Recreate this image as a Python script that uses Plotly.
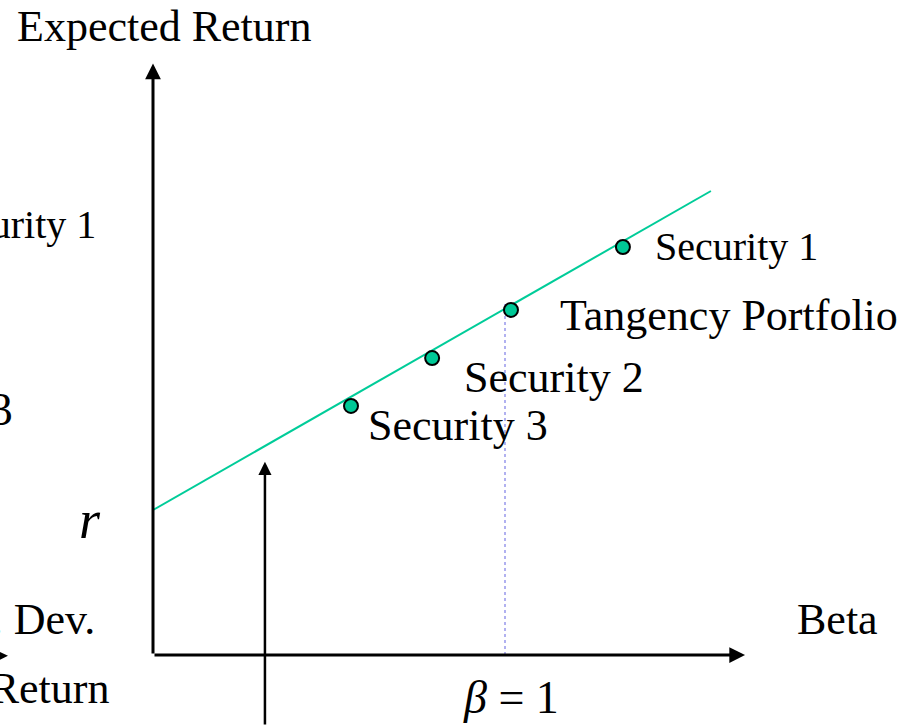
import plotly.graph_objects as go

# ---- data (beta, expected return) ----
securities = ["Security 3", "Security 2", "Tangency Portfolio", "Security 1"]
betas = [0.5625, 0.793, 1.017, 1.335]
exp_returns = [8.59, 10.24, 11.9, 14.07]
risk_free = 5.0
sml_slope = 6.94
sml_beta_end = 1.585
market_beta = 1.0
market_line_top = 12.1
axis_beta_end = 1.682
axis_return_end = 20.4
pointer_beta = 0.318
pointer_return = 6.66

# label anchors in data units
label_betas = [0.605, 0.878, 1.1506, 1.420]
label_returns = [7.93, 9.58, 11.72, 14.1]
label_sizes = [44, 44, 44, 40]

X_RANGE = [-153 / 352, 764 / 352]
Y_RANGE = [-71 / 29, 655 / 29]

GREEN = "#00CC99"
FONT = "Liberation Serif, Times New Roman, Times, serif"

fig = go.Figure()

# security market line
fig.add_trace(go.Scatter(
    x=[0, sml_beta_end],
    y=[risk_free, risk_free + sml_slope * sml_beta_end],
    mode="lines", line=dict(color=GREEN, width=2), hoverinfo="skip"))

# beta = 1 dotted guide
fig.add_trace(go.Scatter(
    x=[market_beta, market_beta], y=[0, market_line_top],
    mode="lines", line=dict(color="#8888e8", width=1.3, dash="dot"), hoverinfo="skip"))

# securities
fig.add_trace(go.Scatter(
    x=betas, y=exp_returns, mode="markers", text=securities,
    marker=dict(size=14, color="#00C896", line=dict(color="black", width=2))))

ann = []
# axes with arrow heads
ann.append(dict(x=axis_beta_end, y=0, ax=0, ay=0, xref="x", yref="y", axref="x", ayref="y",
                showarrow=True, arrowhead=2, arrowsize=1.05, arrowwidth=3, arrowcolor="black", text=""))
ann.append(dict(x=0, y=axis_return_end, ax=0, ay=0, xref="x", yref="y", axref="x", ayref="y",
                showarrow=True, arrowhead=2, arrowsize=1.05, arrowwidth=3, arrowcolor="black", text=""))
# pointer arrow from bottom
ann.append(dict(x=pointer_beta, y=pointer_return, ax=0, ay=300, xref="x", yref="y",
                showarrow=True, arrowhead=2, arrowsize=1.05, arrowwidth=2.5, arrowcolor="black", text=""))
# cut-off arrow head of neighbouring panel
ann.append(dict(x=-0.412, y=-0.03, ax=-40, ay=0, xref="x", yref="y",
                showarrow=True, arrowhead=2, arrowsize=1.05, arrowwidth=3, arrowcolor="black", text=""))

def txt(t, x, y, size=44, xanchor="left", **kw):
    ann.append(dict(text=t, x=x, y=y, xref="x", yref="y", showarrow=False,
                    xanchor=xanchor, yanchor="middle",
                    font=dict(family=FONT, size=size, color="black"), **kw))

for name, lb, lr, sz in zip(securities, label_betas, label_returns, label_sizes):
    txt(name, lb, lr, size=sz)

txt("Beta", 1.824, 1.21)
txt("Expected Return", -0.392, 21.66)
txt("<i>β</i> = 1", 0.875, -1.45, size=46)
txt("<i>r</i>", -0.179, 4.66, size=54, xanchor="center")

# text of neighbouring panel, cut by the left edge
txt("Security 1", -0.157, 14.83, size=40, xanchor="right")
txt("Security 3", -0.392, 8.45, size=46, xanchor="right")
txt("Std. Dev.", -0.158, 1.21, xanchor="right")
txt("Expected Return", -0.12, -1.14, xanchor="right")

fig.update_layout(
    width=917, height=726,
    margin=dict(l=0, r=0, t=0, b=0),
    paper_bgcolor="white", plot_bgcolor="white",
    showlegend=False,
    xaxis=dict(range=X_RANGE, visible=False, fixedrange=True),
    yaxis=dict(range=Y_RANGE, visible=False, fixedrange=True),
    annotations=ann,
)

fig.write_html("out.html", config={"displayModeBar": False},
               post_script="document.body.style.margin='0px';")
